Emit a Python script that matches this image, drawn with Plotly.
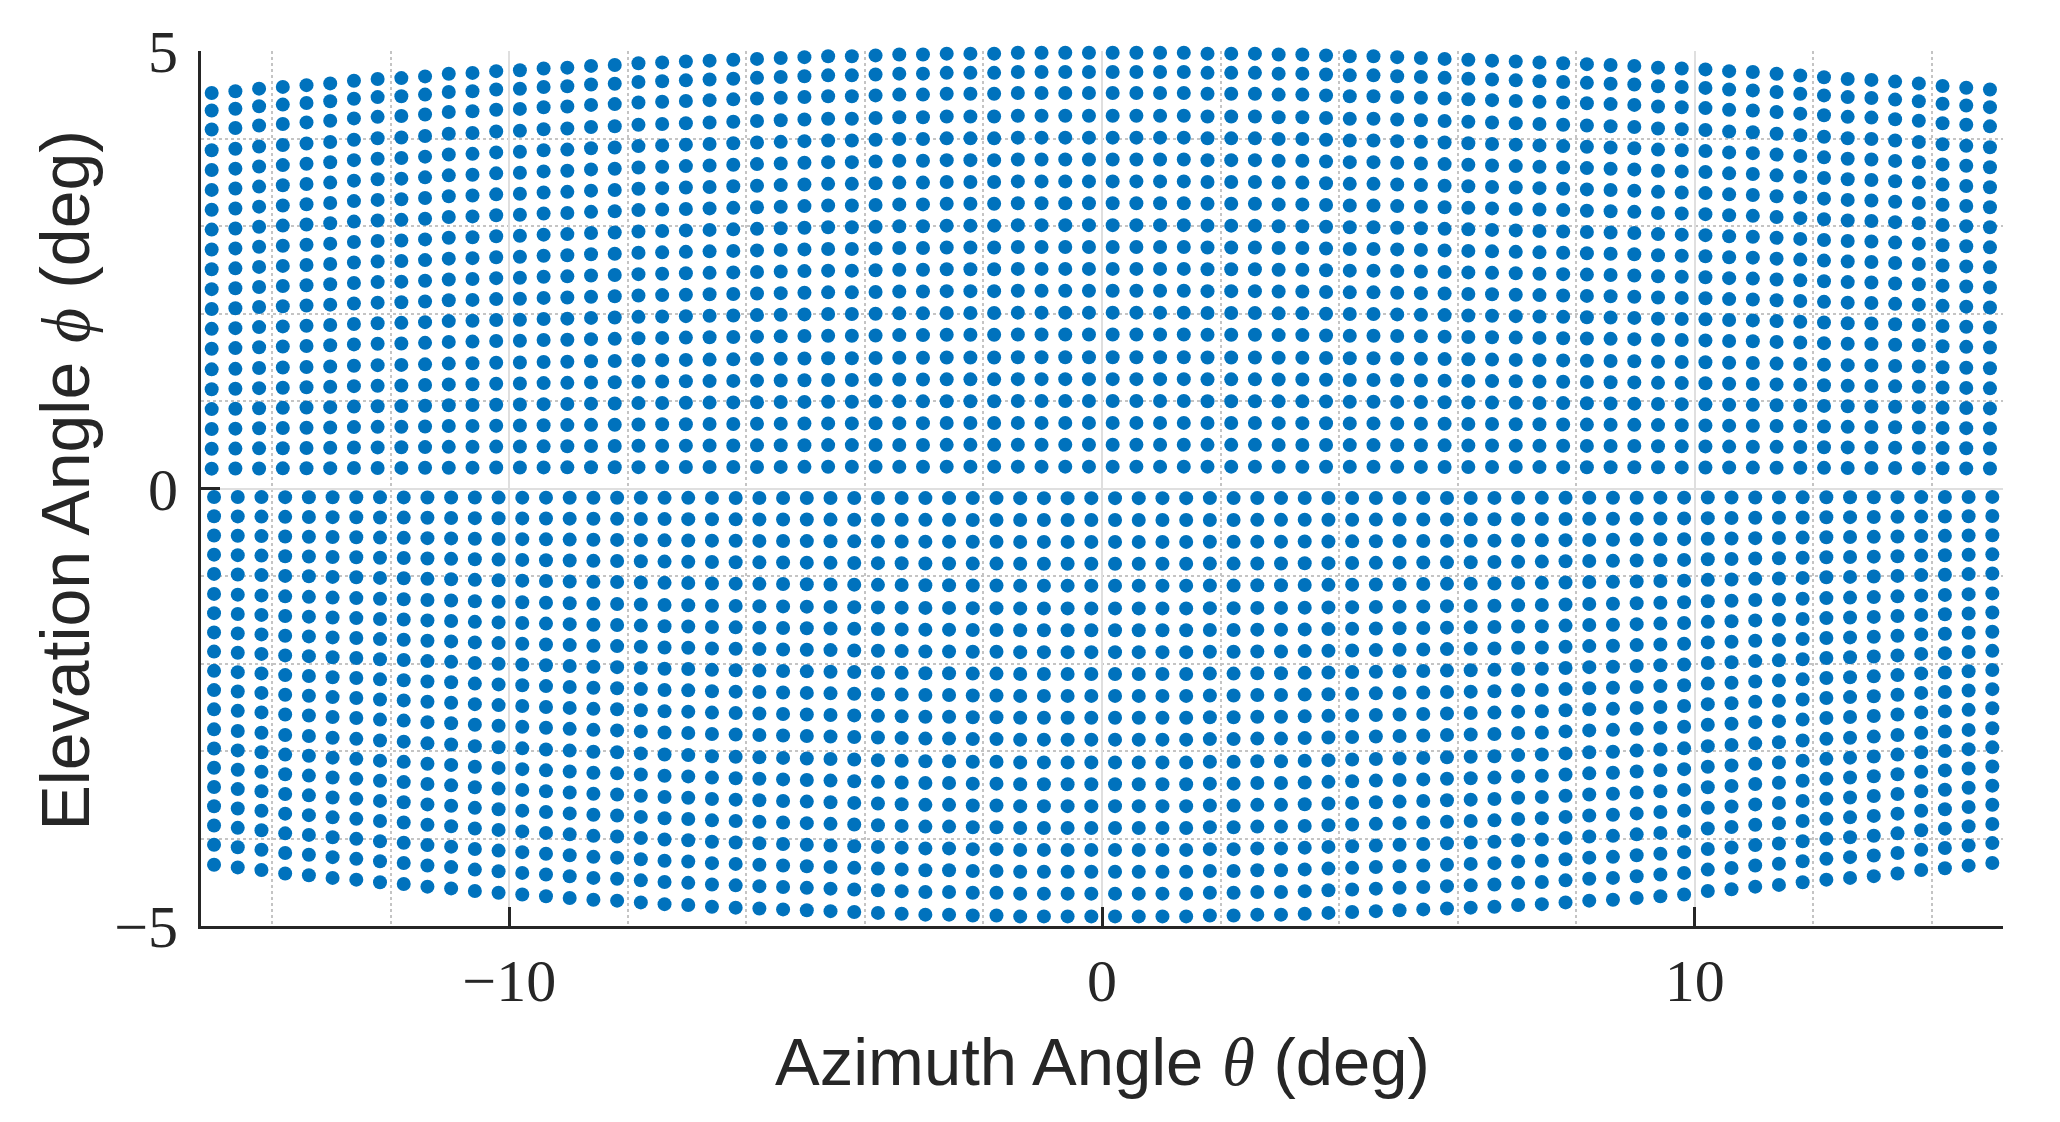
import numpy as np
import plotly.graph_objects as go

# column azimuths (deg) of the upper and lower point blocks
upper_azimuth = [
    -15.02, -14.62, -14.22, -13.82, -13.42, -13.02, -12.62, -12.22, -11.82, -11.42,
    -11.02, -10.62, -10.22, -9.82, -9.42, -9.02, -8.62, -8.22, -7.82, -7.42,
    -7.02, -6.62, -6.22, -5.82, -5.42, -5.02, -4.62, -4.22, -3.82, -3.42,
    -3.02, -2.62, -2.22, -1.82, -1.42, -1.02, -0.62, -0.22, 0.18, 0.58,
    0.98, 1.38, 1.78, 2.18, 2.58, 2.98, 3.38, 3.78, 4.18, 4.58,
    4.98, 5.38, 5.78, 6.18, 6.58, 6.98, 7.38, 7.78, 8.18, 8.58,
    8.98, 9.38, 9.78, 10.18, 10.58, 10.98, 11.38, 11.78, 12.18, 12.58,
    12.98, 13.38, 13.78, 14.18, 14.58, 14.98,
]
lower_azimuth = [
    -14.98, -14.58, -14.18, -13.78, -13.38, -12.98, -12.58, -12.18, -11.78, -11.38,
    -10.98, -10.58, -10.18, -9.78, -9.38, -8.98, -8.58, -8.18, -7.78, -7.38,
    -6.98, -6.58, -6.18, -5.78, -5.38, -4.98, -4.58, -4.18, -3.78, -3.38,
    -2.98, -2.58, -2.18, -1.78, -1.38, -0.98, -0.58, -0.18, 0.22, 0.62,
    1.02, 1.42, 1.82, 2.22, 2.62, 3.02, 3.42, 3.82, 4.22, 4.62,
    5.02, 5.42, 5.82, 6.22, 6.62, 7.02, 7.42, 7.82, 8.22, 8.62,
    9.02, 9.42, 9.82, 10.22, 10.62, 11.02, 11.42, 11.82, 12.22, 12.62,
    13.02, 13.42, 13.82, 14.22, 14.62, 15.02,
]

# elevation rows (deg) of the centre columns
upper_rows = [0.25, 0.50, 0.75, 1.00, 1.25, 1.50, 1.76, 2.01, 2.26, 2.51,
              2.76, 3.01, 3.26, 3.51, 3.76, 4.01, 4.26, 4.52, 4.76, 4.98]
lower_rows = [-0.11, -0.36, -0.61, -0.86, -1.11, -1.37, -1.62, -1.87, -2.12, -2.37,
              -2.62, -2.87, -3.13, -3.38, -3.63, -3.88, -4.13, -4.38, -4.63, -4.89]

# outermost row of every column (top of upper block, bottom of lower block)
upper_top = [
    4.52, 4.54, 4.57, 4.59, 4.61, 4.63, 4.66, 4.68, 4.69, 4.71,
    4.74, 4.75, 4.77, 4.78, 4.80, 4.81, 4.83, 4.84, 4.86, 4.87,
    4.88, 4.89, 4.90, 4.91, 4.92, 4.93, 4.94, 4.94, 4.95, 4.96,
    4.96, 4.97, 4.97, 4.97, 4.98, 4.98, 4.98, 4.98, 4.98, 4.98,
    4.98, 4.98, 4.97, 4.97, 4.97, 4.96, 4.96, 4.95, 4.94, 4.94,
    4.93, 4.92, 4.91, 4.90, 4.89, 4.88, 4.87, 4.86, 4.85, 4.84,
    4.83, 4.81, 4.80, 4.79, 4.77, 4.76, 4.74, 4.72, 4.70, 4.68,
    4.67, 4.65, 4.63, 4.60, 4.58, 4.56,
]
lower_bottom = [
    -4.30, -4.33, -4.36, -4.40, -4.42, -4.45, -4.47, -4.50, -4.52, -4.55,
    -4.57, -4.60, -4.62, -4.64, -4.66, -4.68, -4.70, -4.71, -4.73, -4.75,
    -4.76, -4.78, -4.79, -4.80, -4.81, -4.82, -4.83, -4.84, -4.85, -4.86,
    -4.87, -4.87, -4.88, -4.88, -4.89, -4.89, -4.89, -4.89, -4.89, -4.89,
    -4.89, -4.89, -4.88, -4.88, -4.87, -4.87, -4.86, -4.85, -4.84, -4.83,
    -4.82, -4.81, -4.80, -4.79, -4.78, -4.76, -4.75, -4.73, -4.71, -4.70,
    -4.68, -4.66, -4.64, -4.60, -4.58, -4.55, -4.53, -4.50, -4.47, -4.45,
    -4.43, -4.40, -4.36, -4.34, -4.31, -4.28,
]


def block_points(azimuth, rows, outer):
    rows = np.array(rows)
    xs, ys = [], []
    for az, edge in zip(azimuth, outer):
        xs.append(np.full(rows.size, az))
        ys.append(rows * edge / rows[-1])
    return np.concatenate(xs), np.concatenate(ys)


ux, uy = block_points(upper_azimuth, upper_rows, upper_top)
lx, ly = block_points(lower_azimuth, lower_rows, lower_bottom)

fig = go.Figure()
fig.add_trace(go.Scatter(
    x=np.concatenate([ux, lx]), y=np.concatenate([uy, ly]),
    mode='markers', marker=dict(color='#0072BD', size=14, line_width=0),
    cliponaxis=False, showlegend=False))

axis_style = dict(
    showline=True, linecolor='#262626', linewidth=3,
    ticks='inside', ticklen=19, tickwidth=2.5, tickcolor='#262626',
    showgrid=True, gridcolor='#dfdfdf', gridwidth=2, zeroline=False,
    tickfont=dict(family='Liberation Serif', size=60, color='#262626'),
)
fig.update_xaxes(range=[-15.2, 15.2], tick0=0, dtick=10, ticklabelstandoff=0,
                 minor=dict(dtick=2, tick0=0, showgrid=True, gridcolor='#c4c4c4',
                            griddash='dot', gridwidth=2, ticks=''),
                 **axis_style)
fig.update_yaxes(range=[-5, 5], tick0=0, dtick=5, ticklabelstandoff=8,
                 minor=dict(dtick=1, tick0=0, showgrid=True, gridcolor='#c4c4c4',
                            griddash='dot', gridwidth=2, ticks=''),
                 **axis_style)

fig.add_annotation(
    text='Azimuth Angle <i><span style="font-family:Liberation Serif">θ</span></i> (deg)',
    xref='paper', yref='paper', x=0.5, y=-0.155, xanchor='center', yanchor='middle',
    showarrow=False, font=dict(family='Liberation Sans', size=67, color='#262626'))
fig.add_annotation(
    text='Elevation Angle <i><span style="font-family:Liberation Serif">ϕ</span></i> (deg)',
    xref='paper', yref='paper', x=-0.075, y=0.51, xanchor='center', yanchor='middle',
    textangle=-90, showarrow=False,
    font=dict(family='Liberation Sans', size=68, color='#262626'))

# the page body adds an 8 px offset, so the margins are shifted to compensate
fig.update_layout(
    width=2060, height=1122,
    margin=dict(l=193, r=65, t=43, b=204),
    plot_bgcolor='white', paper_bgcolor='white',
)

fig.write_html('out.html')
